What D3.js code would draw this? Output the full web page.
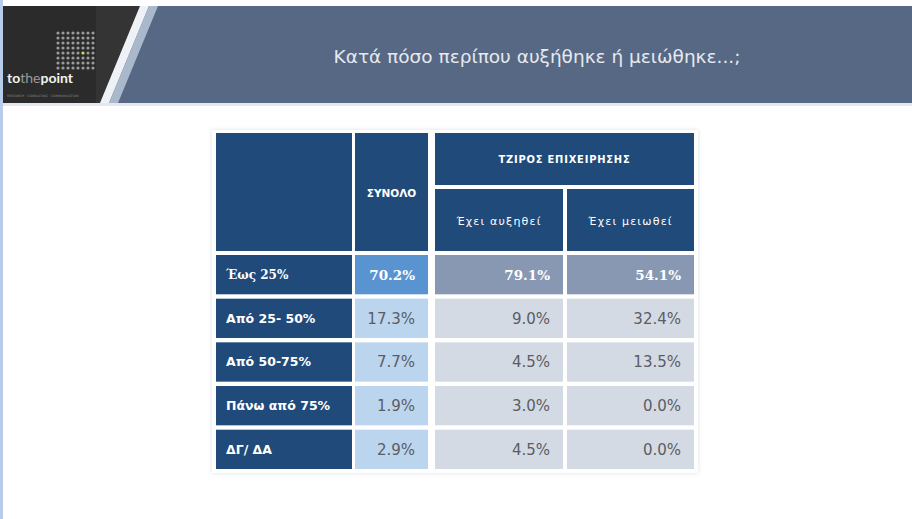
<!DOCTYPE html>
<html>
<head>
<meta charset="utf-8">
<script src="https://cdn.jsdelivr.net/npm/d3@7"></script>
<style>
  html, body { margin: 0; padding: 0; background: #ffffff; }
  svg { display: block; }
</style>
</head>
<body>
<svg id="chart" width="912" height="519"></svg>
<script>
// ---- data ----
const title = "Κατά πόσο περίπου αυξήθηκε ή μειώθηκε...;";
const categories = ["Έως 25%", "Από 25- 50%", "Από 50-75%", "Πάνω από 75%", "ΔΓ/ ΔΑ"];
const totalValues = [70.2, 17.3, 7.7, 1.9, 2.9];
const increasedValues = [79.1, 9.0, 4.5, 3.0, 4.5];
const decreasedValues = [54.1, 32.4, 13.5, 0.0, 0.0];
const totalLabel = "ΣΥΝΟΛΟ";
const groupLabel = "ΤΖΙΡΟΣ ΕΠΙΧΕΙΡΗΣΗΣ";
const subLabels = ["Έχει αυξηθεί", "Έχει μειωθεί"];

const svg = d3.select("#chart");

// ---- slide background / header ----
svg.append("rect").attr("x", 0).attr("y", 0).attr("width", 912).attr("height", 519).attr("fill", "#ffffff");
svg.append("rect").attr("x", 0).attr("y", 0).attr("width", 3).attr("height", 519).attr("fill", "#b7cdea");

// header band
svg.append("rect").attr("x", 3).attr("y", 6).attr("width", 909).attr("height", 97).attr("fill", "#576884");
svg.append("rect").attr("x", 3).attr("y", 103).attr("width", 909).attr("height", 3).attr("fill", "#e3e7ee");
// dark logo block
svg.append("polygon").attr("points", "3,6 140,6 100,103 3,103").attr("fill", "#2b2b2b");
svg.append("polygon").attr("points", "96,6 140,6 100,103 96,103").attr("fill", "#343434");
// diagonal stripes
svg.append("polygon").attr("points", "140,6 149,6 109,103 100,103").attr("fill", "#eef1f6");
svg.append("polygon").attr("points", "149,6 158,6 118,103 109,103").attr("fill", "#aab8cc");

// logo dot grid
const dotIdx = d3.range(8);
const gDots = svg.append("g");
dotIdx.forEach(r => dotIdx.forEach(c => {
  gDots.append("circle")
    .attr("cx", 58 + c * 5).attr("cy", 33 + r * 5).attr("r", 1.6)
    .attr("fill", (r === 4 && c === 5) ? "#d6e04a" : "#9a9a9a");
}));
const logo = svg.append("text").attr("x", 7).attr("y", 83)
  .attr("font-family", "Lato, 'DejaVu Sans', sans-serif").attr("font-size", 14).attr("font-weight", 700);
logo.append("tspan").attr("fill", "#f2f2f2").text("to");
logo.append("tspan").attr("fill", "#9a9a9a").attr("font-weight", 400).text("the");
logo.append("tspan").attr("fill", "#f2f2f2").text("point");
svg.append("text").attr("x", 7).attr("y", 97)
  .attr("font-family", "'DejaVu Sans', sans-serif").attr("font-size", 3.2).attr("fill", "#8a8a8a")
  .text("RESEARCH · CONSULTING · COMMUNICATION");

// title
svg.append("text").attr("x", 537).attr("y", 63).attr("text-anchor", "middle")
  .attr("font-family", "'DejaVu Sans', sans-serif").attr("font-size", 18.5)
  .attr("fill", "#e6e9ef").text(title);

// ---- table ----
const defs = svg.append("defs");
const f = defs.append("filter").attr("id", "sh").attr("x", "-5%").attr("y", "-5%").attr("width", "110%").attr("height", "110%");
f.append("feDropShadow").attr("dx", 0).attr("dy", 0).attr("stdDeviation", 2).attr("flood-color", "#b8c0cc").attr("flood-opacity", 0.5);

svg.append("rect").attr("x", 212).attr("y", 130).attr("width", 486).attr("height", 343)
  .attr("fill", "#ffffff").attr("filter", "url(#sh)");

const navy = "#1f4a7a";
const cols = [
  {x0: 216, x1: 352},
  {x0: 355, x1: 428},
  {x0: 435, x1: 563},
  {x0: 567, x1: 694}
];

const y = d3.scaleBand().domain(categories).range([255, 469]).paddingInner(0.1).paddingOuter(0);

// header cells
const hdr = svg.append("g");
hdr.append("rect").attr("x", cols[0].x0).attr("y", 133).attr("width", cols[0].x1 - cols[0].x0).attr("height", 118).attr("fill", navy);
hdr.append("rect").attr("x", cols[1].x0).attr("y", 133).attr("width", cols[1].x1 - cols[1].x0).attr("height", 118).attr("fill", navy);
hdr.append("rect").attr("x", cols[2].x0).attr("y", 133).attr("width", cols[3].x1 - cols[2].x0).attr("height", 52).attr("fill", navy);
hdr.append("rect").attr("x", cols[2].x0).attr("y", 189).attr("width", cols[2].x1 - cols[2].x0).attr("height", 62).attr("fill", navy);
hdr.append("rect").attr("x", cols[3].x0).attr("y", 189).attr("width", cols[3].x1 - cols[3].x0).attr("height", 62).attr("fill", navy);

const hFont = "'DejaVu Sans', sans-serif";
hdr.append("text").attr("x", (cols[1].x0 + cols[1].x1) / 2).attr("y", 197).attr("text-anchor", "middle")
  .attr("font-family", hFont).attr("font-weight", 700).attr("font-size", 10.5).attr("fill", "#ffffff").text(totalLabel);
hdr.append("text").attr("x", (cols[2].x0 + cols[3].x1) / 2).attr("y", 163).attr("text-anchor", "middle")
  .attr("font-family", "'Liberation Sans Narrow', 'DejaVu Sans Condensed', sans-serif").attr("font-weight", 700)
  .attr("font-size", 11).attr("letter-spacing", 0.8).attr("fill", "#ffffff").text(groupLabel);
subLabels.forEach((s, i) => {
  const c = cols[2 + i];
  hdr.append("text").attr("x", (c.x0 + c.x1) / 2).attr("y", 225).attr("text-anchor", "middle")
    .attr("font-family", hFont).attr("font-size", 11).attr("letter-spacing", 1.2).attr("fill", "#ffffff").text(s);
});

// body rows
const rows = categories.map((c, i) => ({cat: c, i, vals: [totalValues[i], increasedValues[i], decreasedValues[i]]}));
const fmt = d3.format(".1f");

const rowG = svg.append("g").selectAll("g").data(rows).join("g")
  .attr("transform", d => `translate(0,${y(d.cat)})`);

rowG.append("rect").attr("x", cols[0].x0).attr("width", cols[0].x1 - cols[0].x0)
  .attr("height", y.bandwidth()).attr("fill", navy);
rowG.append("text").attr("x", cols[0].x0 + 10).attr("y", y.bandwidth() / 2 + 4.5)
  .attr("font-family", d => d.i === 0 ? "'DejaVu Serif', serif" : hFont)
  .attr("font-weight", 700).attr("font-size", d => d.i === 0 ? 12 : 12.5).attr("fill", "#ffffff")
  .text(d => d.cat);

[0, 1, 2].forEach(k => {
  const c = cols[1 + k];
  rowG.append("rect").attr("x", c.x0).attr("width", c.x1 - c.x0).attr("height", y.bandwidth())
    .attr("fill", d => d.i === 0 ? (k === 0 ? "#5a94d0" : "#8898b2") : (k === 0 ? "#bcd5ee" : "#d4dae4"));
  rowG.append("text").attr("x", c.x1 - 13).attr("y", y.bandwidth() / 2 + 5.5).attr("text-anchor", "end")
    .attr("font-family", d => d.i === 0 ? "'DejaVu Serif', serif" : hFont)
    .attr("font-weight", d => d.i === 0 ? 700 : 400)
    .attr("font-size", d => d.i === 0 ? 13.5 : 15)
    .attr("fill", d => d.i === 0 ? "#ffffff" : "#5a5d63")
    .text(d => fmt(d.vals[k]) + "%");
});
</script>
</body>
</html>
